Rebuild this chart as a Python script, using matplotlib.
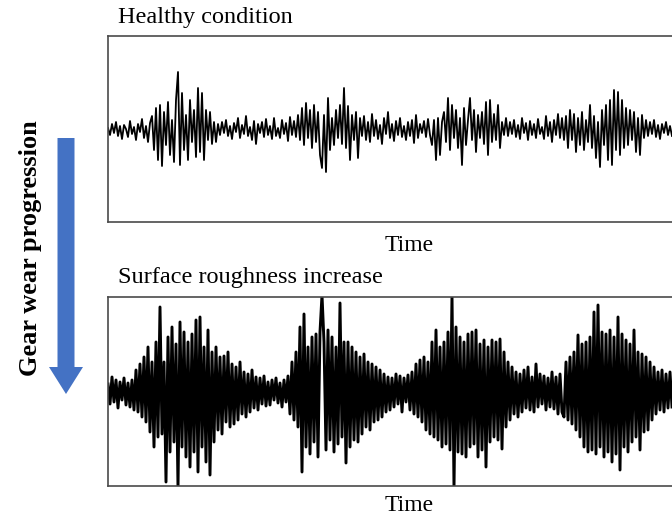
import numpy as np
import matplotlib
matplotlib.use("Agg")
import matplotlib.pyplot as plt
from matplotlib.patches import FancyArrow

# vibration amplitude (one sample per 2 px, positive = up)
healthy = [
    2, -5, 6, -3, 8, -6, 4, -9, 5, 1, -7, 9, -4, 3, -10, 6, -2, 11, -8, 4, -12, 7,
    14, -20, 22, -30, 25, -36, 18, -15, 28, -25, 10, -32, 30,
    58, -35, 37, -20, 15, -30, 30, -12, 20, -27, 42, -22, 37, -30, 20, -10, 18, -14, 8, -12, 6,
    -5, 8, -3, 10, -6, 4, -9, 7, -2, 12, -8, 5, -4, 14, -6, 3, -10, 9, -14, 6,
    -3, 8, -7, 11, -5, 4, -9, 12, -6, 2, -8, 10, -4, 7, -11, 13, -5, 9, -7, 15,
    -10, 22, -15, 27, -8, 20, -18, 25, -12, 18, -25,
    -38, 15, -42, 32, -20,
    12, -15, 20, -8, 25, -14, 42, -18, 24, -30, 15, -10, 18, -28, 12, -6,
    14, -10, 8, -12, 16, -6, 10, -9, 5, -14, 12, -4, 18, -8, 6, -11, 9,
    -5, 12, -7, 4, -10, 8, -6, 10, -13, 15, -8, 6, -3, 9, -7, 11, -5,
    -15, 10, -30, 12, -25, 8,
    18, -12, 32, -20, 25, -8, 20, -18, 12, -35, 22, -15, 10,
    32, -10, 20, -22, 15, -8, 18, -14, 28, -25, 30, -12, 16, -10, 25, -18, 8, -5, 12,
    -6, 8, -4, 10, -7, 5, -9, 12, -3, 7, -10, 9, -5, 6, -8, 11, -4, 3, -9, 14,
    -6, 8, -12, 10, -5, 16, -8, 12, -10,
    14, -18, 20, -10, 16, -22, 12, -15, 18, -20, 10, -12, 25, -18, 14, -28, 8,
    -37, 20, -15, 25, -30, 30, -35, 40, -20, 38, -25, 30, -18, 22,
    -15, 20, -10, 18, -22, 12, -25, 15, -8, 10,
    -6, 8, -4, 10, -7, 5, -9, 6, -3, 8, -5, 4, -6,
]

rough = [
    8, -12, 15, -10, 12, -16, 10, -8, 14, -13, 9, -15, 12,
    -18, 22, -20, 28, -25, 35, -30, 45, -40, 30, -55, 50, -45,
    85, -42, 30, -90, 55, -60, 65, -50, 48, -96, 70, -55, 60, -65, 50, -75, 58,
    -60, 72, -80, 75, -55, 45, -70, 62, -83, 40,
    -50, 45, -38, 35, -42, 36, -30, 40, -35, 28, -32, 25, -28, 30, -22, 20, -25,
    18, -20, 22, -16, 15, -18, 14, -12, 16, -14,
    10, -13, 12, -8, 14, -11, 9, -15, 12, -10, 16,
    -22, 30, -28, 40, -35, 65, -80, 78, -55, 45, -62, 55, -50, 58, -65, 60, 97, 50,
    -58, 62, -48, 55, -60, 45, -52, 89, -45, 50, -71, 50, -55, 45, -48, 40, -50,
    35, -42, 38, -35, 30, -38, 28, -30, 25, -28, 22, -25, 18, -20, 15, -18, 14,
    -15, 18, -12, 16, -20, 14, -10, 17, -18, 20,
    -22, 28, -25, 32, -30, 35, -38, 30, -42, 50, -45, 62, -48, 45, -55, 50, -52,
    60, -58, 97, -96, 65, -60, 55, -62, 50, -65, 58, -55, 60, -52, 62, -65, 48,
    -58, 52, -75, 45, -50, 52, -45, 50, -48, 53, -57, 40, -35,
    30, -28, 25, -22, 20, -25, 18, -20, 22, -16, 25, -18, 15, -20, 28, -15, 18,
    -12, 16, -18, 14, -15, 20, -17, 15, -22, 18, -20,
    -25, 30, -28, 35, -32, 40, -38, 57, -45, 48, -55, 50, -60, 55, -58, 80, -62,
    87, -55, 60, -65, 58, -60, 62, -70, 55, -62, 75, -78, 58, -55, 52, -60, 48,
    -50, 62, -45, 40, -58, 38, -40, 35, -38, 30, -28,
    25, -22, 20, -18, 22, -20, 18, -16, 20, -15,
]

titles = ["Healthy condition", "Surface roughness increase"]
side_label = "Gear wear progression"

W, H = 672, 517
fig = plt.figure(figsize=(W / 100, H / 100), dpi=100)
serif = ["Liberation Serif", "DejaVu Serif"]


def panel(top, bottom, signal, ylim, lw, pad):
    # axes placed in pixel units, right border runs off the canvas
    ax = fig.add_axes([108 / W, (H - bottom) / H, (710 - 108) / W, (bottom - top) / H])
    ax.plot(np.arange(len(signal)), signal, color="black", lw=lw)
    ax.set_xlim(0, 301)
    ax.set_ylim(*ylim)
    ax.set_xticks([])
    ax.set_yticks([])
    for s in ax.spines.values():
        s.set_color("#4a4a4a")
        s.set_linewidth(1.2)
    ax.set_xlabel("Time", fontsize=17, family=serif, labelpad=pad)
    return ax


panel(36, 222, healthy, (-92, 94), 1.3, 9.5)
panel(297, 486, rough, (-94, 95), 2.1, 6.5)

# overlay in pixel coordinates for titles and the arrow
ov = fig.add_axes([0, 0, 1, 1])
ov.set_xlim(0, W)
ov.set_ylim(H, 0)
ov.axis("off")
ov.text(118, 18, titles[0], fontsize=17.5, family=serif, va="center", ha="left")
ov.text(118, 278, titles[1], fontsize=17.5, family=serif, va="center", ha="left")
ov.text(31, 248, side_label, fontsize=19, family=serif, fontweight="bold",
        rotation=90, va="center", ha="center")
ov.add_patch(FancyArrow(66, 138, 0, 256, width=17, head_width=34, head_length=27,
                        length_includes_head=True, color="#4472C4", lw=0))

fig.savefig("out.png", dpi=100)
